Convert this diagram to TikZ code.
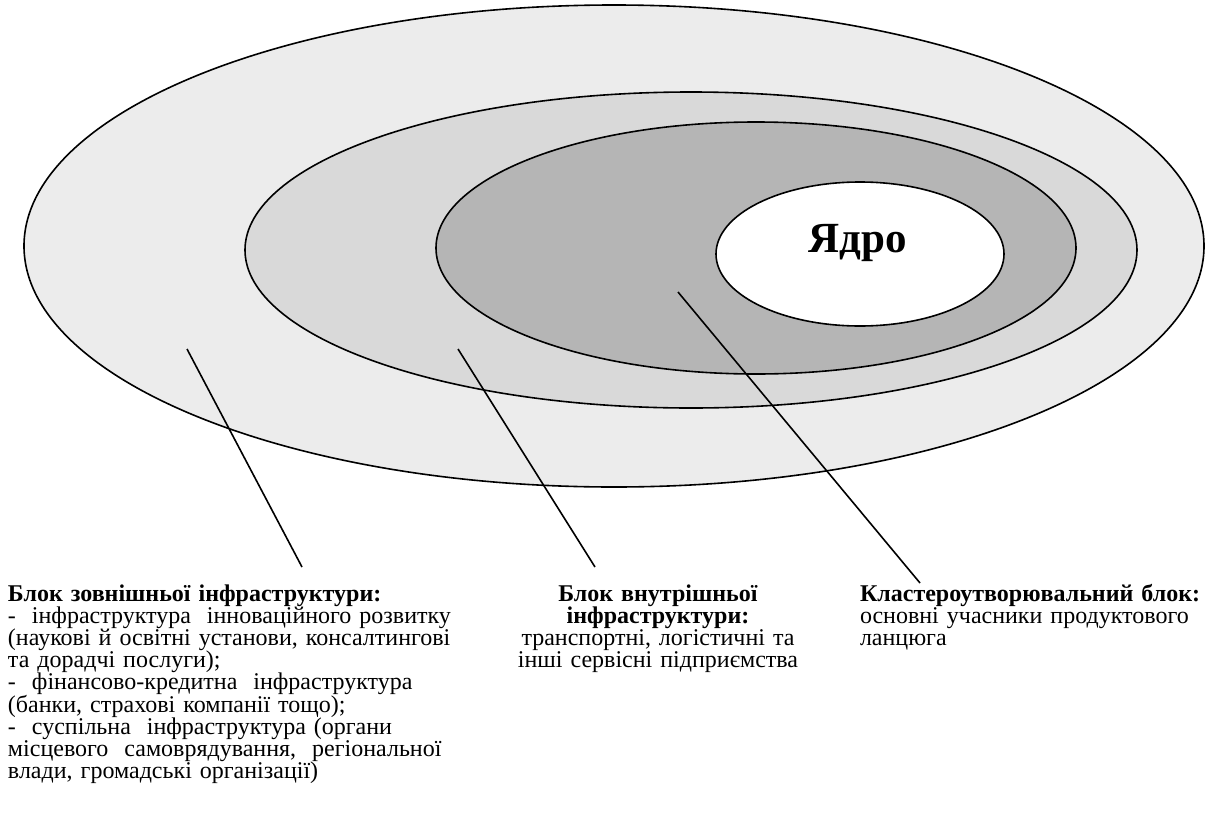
\documentclass[tikz,border=0pt]{standalone}
\usepackage{fontspec}
\setmainfont{Liberation Serif}
\definecolor{outerfill}{HTML}{ECECEC}
\definecolor{middlefill}{HTML}{D9D9D9}
\definecolor{innerfill}{HTML}{B5B5B5}
\begin{document}
\begin{tikzpicture}[x=1pt,y=-1pt,
  ring/.style={draw=black, line width=1.6},
  pointer/.style={draw=black, line width=1.6},
  caption/.style={inner sep=0pt, outer sep=0pt, anchor=base west,
    font=\fontsize{24}{22}\selectfont},
]
\useasboundingbox (0,0) rectangle (1211,825);

% nested blocks of the cluster
\path[ring, fill=outerfill]  (614,246) ellipse [x radius=590, y radius=241];
\path[ring, fill=middlefill] (691,250) ellipse [x radius=446, y radius=158];
\path[ring, fill=innerfill]  (756,248) ellipse [x radius=320, y radius=126];
\path[ring, fill=white]      (860,254) ellipse [x radius=144, y radius=72];

\node[inner sep=0pt, anchor=base, font=\fontsize{43}{43}\selectfont\bfseries]
  (core) at (858,252) {Ядро};

% captions
\node[caption, text width=449, align=left] (outerText) at (8,601)
{\textbf{Блок зовнішньої інфраструктури:}\\
\makebox[\linewidth][s]{-\ \ інфраструктура\ \ інноваційного розвитку}\\
\makebox[\linewidth][s]{(наукові й освітні установи, консалтингові}\\
та дорадчі послуги);\\
-\ \ фінансово-кредитна\ \ інфраструктура\\
(банки, страхові компанії тощо);\\
-\ \ суспільна\ \ інфраструктура (органи\\
місцевого\ \ самоврядування,\ \ регіональної\\
влади, громадські організації)};

\node[caption, anchor=base, text width=300, align=center] (middleText) at (658,601)
{\textbf{Блок внутрішньої}\\
\textbf{інфраструктури:}\\
транспортні, логістичні та\\
інші сервісні підприємства};

\node[caption, text width=340, align=left] (coreText) at (860,601)
{\mbox{\textbf{Кластероутворювальний блок:}}\\
\makebox[\linewidth][s]{основні учасники продуктового}\\
ланцюга};

% pointers from each block to its caption
\coordinate (outerPt) at (187,349);
\coordinate (outerEnd) at (302,567);
\coordinate (middlePt) at (458,349);
\coordinate (middleEnd) at (595,567);
\coordinate (innerPt) at (678,292);
\coordinate (innerEnd) at (920,583);
\draw[pointer] (outerPt) -- (outerEnd);
\draw[pointer] (middlePt) -- (middleEnd);
\draw[pointer] (innerPt) -- (innerEnd);
\end{tikzpicture}
\end{document}
